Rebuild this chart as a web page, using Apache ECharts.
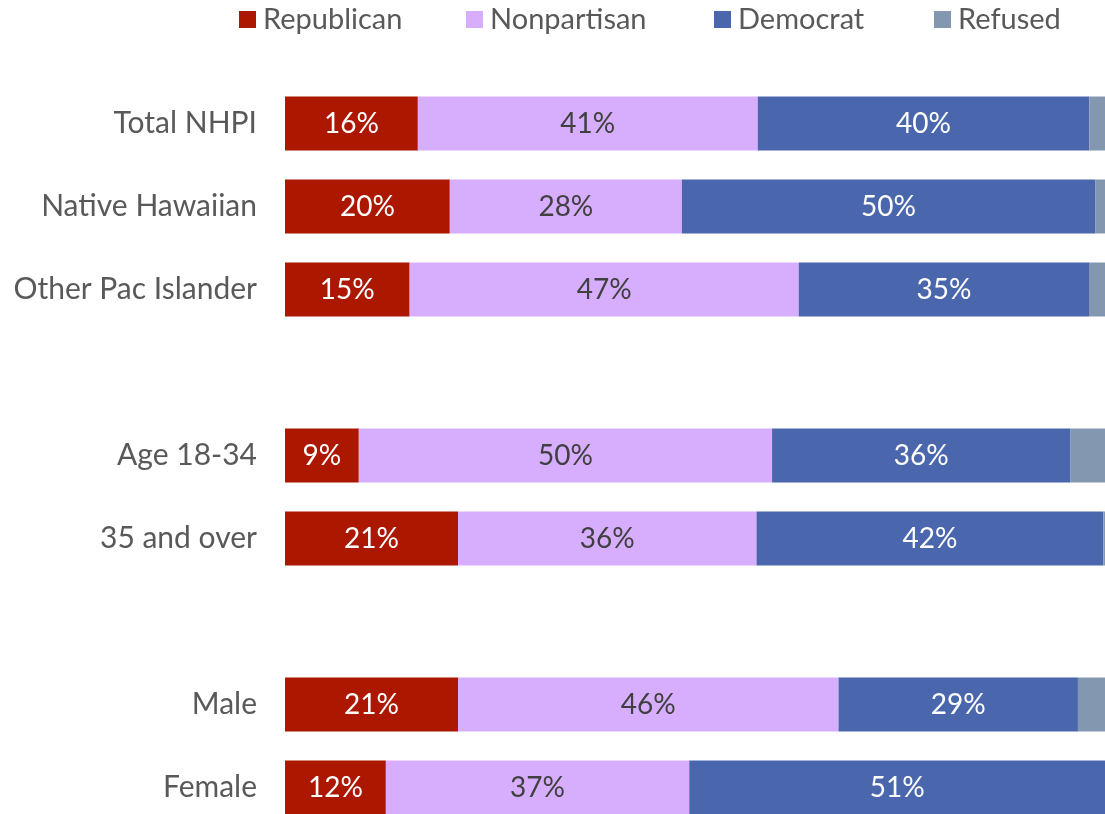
<!DOCTYPE html>
<html>
<head>
<meta charset="utf-8">
<script src="https://cdn.jsdelivr.net/npm/echarts@6/dist/echarts.min.js"></script>
<style>
html,body{margin:0;padding:0;background:#fff;}
#chart{width:1105px;height:814px;}
</style>
</head>
<body>
<div id="chart"></div>
<script>
const categories = ['Total NHPI', 'Native Hawaiian', 'Other Pac Islander', '', 'Age 18-34', '35 and over', ' ', 'Male', 'Female'];
const seriesNames = ['Republican', 'Nonpartisan', 'Democrat', 'Refused'];
const republican  = [16.2, 20.1, 15.2, null, 9.0, 21.1, null, 21.1, 12.3];
const nonpartisan = [41.45, 28.3, 47.45, null, 50.4, 36.4, null, 46.4, 37.0];
const democrat    = [40.45, 50.4, 35.4, null, 36.4, 42.3, null, 29.2, 50.7];
const refused     = [1.9, 1.2, 1.95, null, 4.2, 0.2, null, 3.3, 0];

const colors = ['#AC1700', '#D7AEFE', '#4A66AC', '#8497B0'];
const labelColors = ['#ffffff', '#404040', '#ffffff', '#ffffff'];
const values = [republican, nonpartisan, democrat, refused];
const FONT = 'Lato, "Open Sans", sans-serif';

const chart = echarts.init(document.getElementById('chart'));
const legendLefts = [239, 466, 714, 934];

const option = {
  animation: false,
  backgroundColor: '#ffffff',
  legend: seriesNames.map((n, i) => ({
    data: [n],
    left: legendLefts[i],
    top: 5,
    padding: 0,
    itemWidth: 17,
    itemHeight: 17,
    icon: 'rect',
    textStyle: { fontFamily: FONT, fontSize: 29, color: '#595959', padding: [0, 0, 0, 2] },
    selectedMode: false
  })),
  grid: { left: 285, right: 0, top: 123.5, bottom: 26.5, containLabel: false },
  xAxis: { type: 'value', min: 0, max: 100, show: false },
  yAxis: {
    type: 'category',
    data: categories,
    inverse: true,
    boundaryGap: false,
    axisLine: { show: false },
    axisTick: { show: false },
    splitLine: { show: false },
    axisLabel: { fontFamily: FONT, fontSize: 30, color: '#595959', margin: 28 }
  },
  series: seriesNames.map((n, i) => ({
    name: n,
    type: 'bar',
    stack: 'total',
    barWidth: 54,
    data: values[i],
    itemStyle: { color: colors[i] },
    label: {
      show: i < 3,
      position: 'inside',
      fontFamily: FONT,
      fontSize: 28,
      color: labelColors[i],
      formatter: p => (p.value == null ? '' : Math.round(p.value) + '%')
    }
  }))
};
chart.setOption(option);
</script>
</body>
</html>
